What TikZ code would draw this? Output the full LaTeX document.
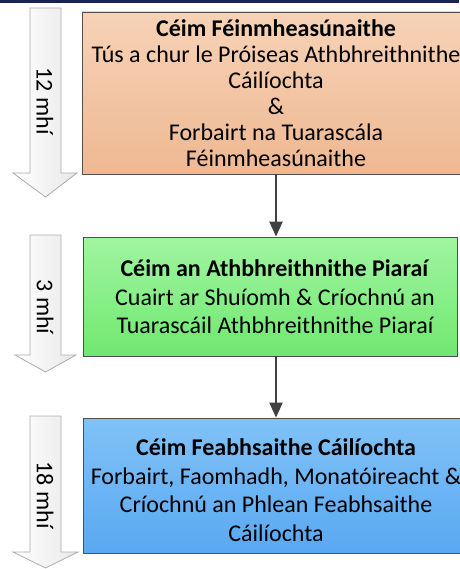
\documentclass[tikz,border=0pt]{standalone}
\usepackage{fontspec}
\setmainfont{Carlito}
\usetikzlibrary{arrows.meta}
\definecolor{navy}{RGB}{26,35,85}
\definecolor{peachT}{RGB}{247,210,182}
\definecolor{peachB}{RGB}{238,184,146}
\definecolor{greenT}{RGB}{160,245,160}
\definecolor{greenB}{RGB}{112,232,112}
\definecolor{blueT}{RGB}{128,194,247}
\definecolor{blueB}{RGB}{90,168,242}
\definecolor{boxline}{RGB}{80,80,80}
\definecolor{connline}{RGB}{64,64,64}
\tikzset{
  stagebox/.style={draw=boxline, line width=0.8pt, rectangle, inner sep=0pt},
  stagetext/.style={align=center, text=black, font=\fontsize{24}{26}\selectfont, inner sep=0pt},
  stagetextb/.style={align=center, text=black, font=\fontsize{24}{28.5}\selectfont, inner sep=0pt},
  timearrow/.style={draw=gray!65, line width=0.8pt, left color=white, right color=gray!18},
  timelabel/.style={rotate=-90, font=\fontsize{24}{26}\selectfont, text=black, inner sep=0pt},
  conn/.style={draw=connline, line width=2pt, -{Triangle[width=13pt,length=15pt]}}
}
\begin{document}
\begin{tikzpicture}[x=1pt,y=-1pt]
\useasboundingbox (0,0) rectangle (459,569);
\fill[navy] (0,0) rectangle (459,3);
% time arrows
\path[timearrow] (30,8) -- (61,8) -- (61,173) -- (77,173) -- (45.5,197) -- (13,173) -- (30,173) -- cycle;
\path[timearrow] (30,235) -- (61,235) -- (61,355) -- (76,355) -- (45.5,372) -- (15,355) -- (30,355) -- cycle;
\path[timearrow] (30,416) -- (61,416) -- (61,552) -- (78,552) -- (45.5,568) -- (13,552) -- (30,552) -- cycle;
\node[timelabel] (l1) at (45,101) {12 mhí};
\node[timelabel] (l2) at (45,307) {3 mhí};
\node[timelabel] (l3) at (45,495) {18 mhí};
% boxes
\node[stagebox, top color=peachT, bottom color=peachB, minimum width=388pt, minimum height=162pt] (b1) at (276,93) {};
\node[stagebox, top color=greenT, bottom color=greenB, minimum width=374pt, minimum height=119pt] (b2) at (270,296.5) {};
\node[stagebox, top color=blueT, bottom color=blueB, minimum width=387pt, minimum height=135pt] (b3) at (276.5,485.5) {};
\node[stagetext] (t1) at (276,93) {\textbf{Céim Féinmheasúnaithe}\\Tús a chur le Próiseas Athbhreithnithe\\Cáilíochta\\\&\\Forbairt na Tuarascála\\Féinmheasúnaithe};
\node[stagetextb] (t2) at (275,297) {\textbf{Céim an Athbhreithnithe Piaraí}\\Cuairt ar Shuíomh \& Críochnú an\\Tuarascáil Athbhreithnithe Piaraí};
\node[stagetextb] (t3) at (276,490) {\textbf{Céim Feabhsaithe Cáilíochta}\\Forbairt, Faomhadh, Monatóireacht \&\\Críochnú an Phlean Feabhsaithe\\Cáilíochta};
% connectors
\draw[conn] (b1.south) -- (b2.north -| b1.south);
\draw[conn] (b2.south -| b1.south) -- (b3.north -| b1.south);
\end{tikzpicture}
\end{document}
